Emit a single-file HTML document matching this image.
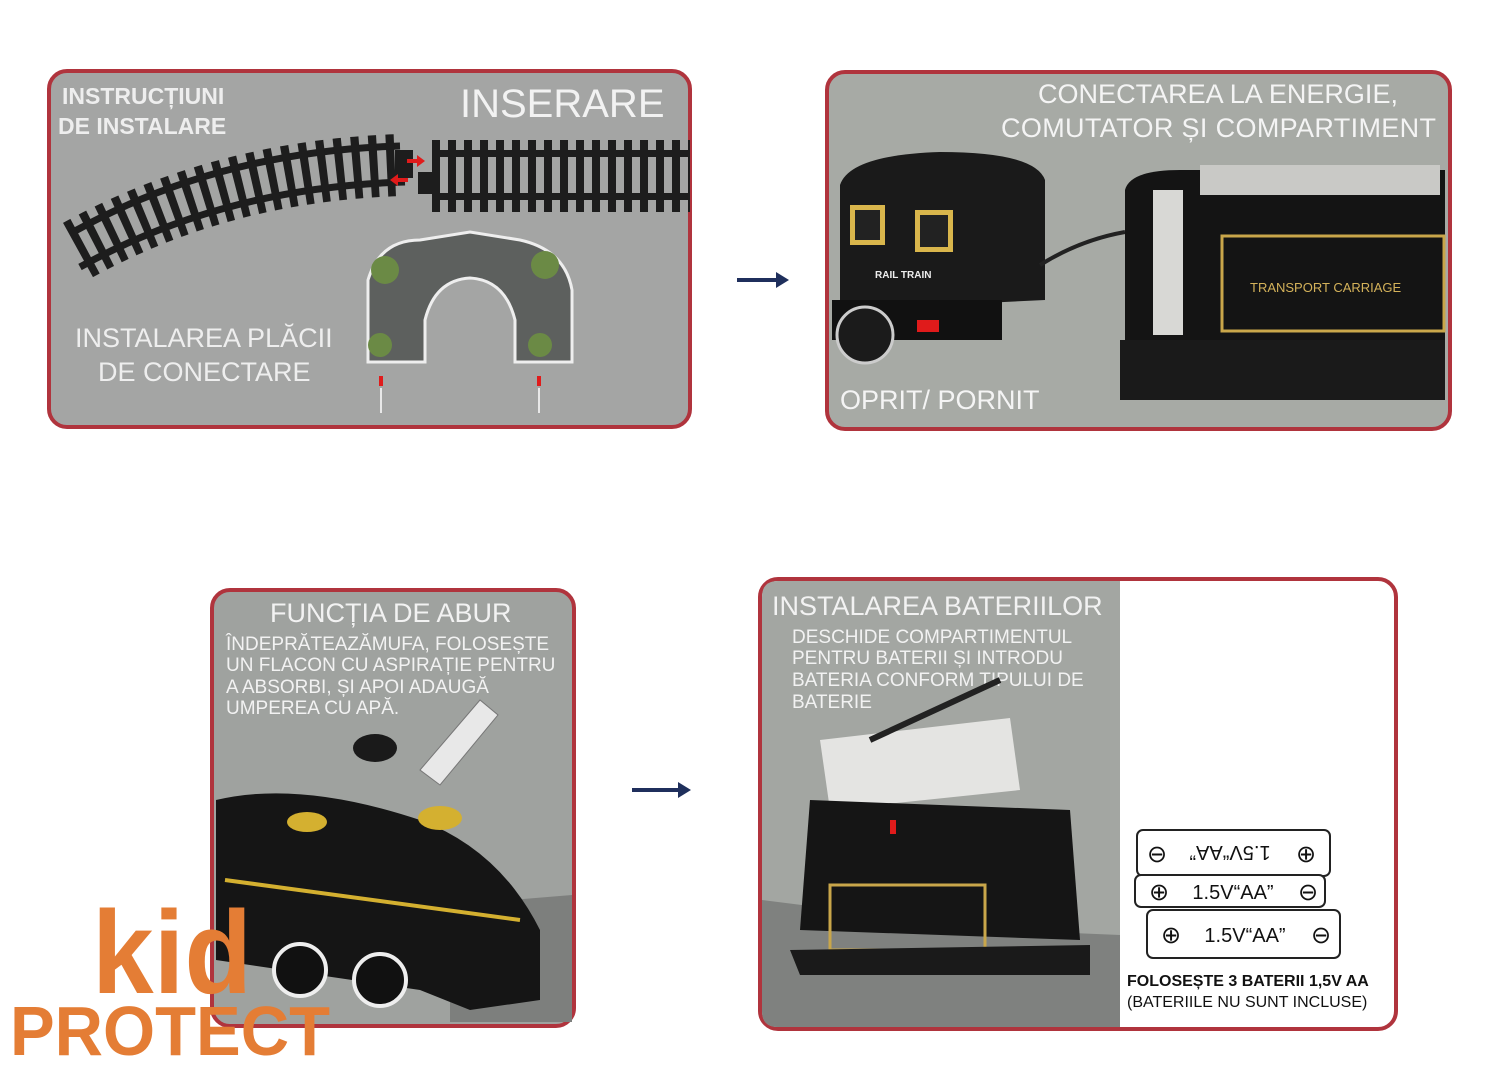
<!DOCTYPE html>
<html><head><meta charset="utf-8"><style>
html,body{margin:0;padding:0;background:#fff;width:1500px;height:1071px;overflow:hidden}
svg text{font-family:"Liberation Sans",sans-serif}
.logo{font-family:"Liberation Sans",sans-serif;font-weight:bold;fill:#e47d35}
</style></head><body>
<svg width="1500" height="1071" viewBox="0 0 1500 1071" xmlns="http://www.w3.org/2000/svg">
<defs>
<pattern id="ties" width="16" height="80" patternUnits="userSpaceOnUse"><rect x="0" y="0" width="8" height="80" fill="#1d1d1d"/></pattern>
</defs>
<!-- Panel 1 -->
<rect x="49" y="71" width="641" height="356" rx="18" fill="#a4a5a4" stroke="#b0343d" stroke-width="4"/>
<text x="62" y="104" font-size="23" style="font-weight:bold" fill="#eee">INSTRUCȚIUNI</text>
<text x="58" y="134" font-size="23" style="font-weight:bold" fill="#eee">DE INSTALARE</text>
<text x="460" y="117" font-size="40" fill="#f2f2f2">INSERARE</text>
<g fill="none" stroke="#1d1d1d">
<path d="M75 245 Q220 165 400 160" stroke-width="7" transform="translate(0,-14)"/>
<path d="M75 245 Q220 165 400 160" stroke-width="7" transform="translate(5,22)"/>
<path d="M75 245 Q220 165 400 160" stroke-width="62" stroke-dasharray="8 9" transform="translate(3,5)"/>
</g>
<rect x="395" y="150" width="18" height="28" fill="#1d1d1d"/>
<rect x="432" y="140" width="258" height="72" fill="url(#ties)"/>
<rect x="432" y="150" width="258" height="7" fill="#1d1d1d"/>
<rect x="432" y="193" width="258" height="7" fill="#1d1d1d"/>
<rect x="418" y="172" width="18" height="22" fill="#1d1d1d"/>
<path d="M407 159 h10 v-4 l8 6 -8 6 v-4 h-10z" fill="#e01b1b"/>
<path d="M408 178 h-10 v-4 l-8 6 8 6 v-4 h10z" fill="#e01b1b"/>
<path d="M368 362 L368 280 Q380 240 420 240 L470 232 L520 240 Q565 250 572 290 L572 362 L515 362 L515 320 Q505 280 470 278 Q435 280 425 320 L425 362Z" fill="#5d605e" stroke="#eee" stroke-width="3"/>
<circle cx="385" cy="270" r="14" fill="#6b8a45"/><circle cx="545" cy="265" r="14" fill="#6b8a45"/>
<circle cx="380" cy="345" r="12" fill="#6b8a45"/><circle cx="540" cy="345" r="12" fill="#6b8a45"/>
<path d="M381 376 v10 M539 376 v10" stroke="#e01b1b" stroke-width="4"/>
<path d="M381 388 v25 M539 388 v25" stroke="#e8e8e8" stroke-width="2"/>
<text x="75" y="347" font-size="27" fill="#eee">INSTALAREA PLĂCII</text>
<text x="98" y="381" font-size="27" fill="#eee">DE CONECTARE</text>
<path d="M737 280 H782" stroke="#1f2f5c" stroke-width="4"/><path d="M776 272 L789 280 776 288Z" fill="#1f2f5c"/>
<!-- Panel 2 -->
<rect x="827" y="72" width="623" height="357" rx="18" fill="#a7aaa5" stroke="#b0343d" stroke-width="4"/>
<text x="1038" y="103" font-size="27" fill="#f4f4f4" textLength="360">CONECTAREA LA ENERGIE,</text>
<text x="1001" y="137" font-size="27" fill="#f4f4f4" textLength="435">COMUTATOR ȘI COMPARTIMENT</text>
<path d="M840 185 Q850 155 940 152 Q1035 152 1045 180 L1045 300 L840 310Z" fill="#1a1a1a"/>
<rect x="832" y="300" width="170" height="40" fill="#111"/>
<circle cx="865" cy="335" r="28" fill="#1b1b1b" stroke="#ccc" stroke-width="3"/>
<rect x="850" y="205" width="35" height="40" fill="#d9b64c"/><rect x="855" y="210" width="25" height="30" fill="#222"/>
<rect x="915" y="210" width="38" height="42" fill="#d9b64c"/><rect x="920" y="215" width="28" height="32" fill="#222"/>
<text x="875" y="278" font-size="10" style="font-weight:bold" fill="#eee">RAIL TRAIN</text>
<rect x="917" y="320" width="22" height="12" fill="#e01b1b"/>
<path d="M1040 265 Q1080 240 1125 232" stroke="#222" stroke-width="4" fill="none"/>
<path d="M1125 190 Q1130 170 1180 170 L1445 170 L1445 360 L1125 340Z" fill="#141414"/>
<rect x="1200" y="165" width="240" height="30" fill="#c9c9c6"/>
<rect x="1153" y="190" width="30" height="145" fill="#d8d8d5"/>
<rect x="1222" y="236" width="222" height="95" fill="none" stroke="#c9a64a" stroke-width="3"/>
<text x="1250" y="292" font-size="13" fill="#d4b25a" font-family="Liberation Serif">TRANSPORT CARRIAGE</text>
<rect x="1120" y="340" width="325" height="60" fill="#1a1a1a"/>
<text x="840" y="409" font-size="27" fill="#f4f4f4">OPRIT/ PORNIT</text>
<!-- Panel 3 -->
<rect x="212" y="590" width="362" height="436" rx="18" fill="#9fa29f" stroke="#b0343d" stroke-width="4"/>
<path d="M450 905 L572 895 L572 1022 L450 1022Z" fill="#7d7f7d"/>
<text x="270" y="622" font-size="27" fill="#f2f2f2">FUNCȚIA DE ABUR</text>
<g font-size="19" fill="#f2f2f2">
<text x="226" y="650">ÎNDEPRĂTEAZĂMUFA, FOLOSEȘTE</text>
<text x="226" y="671">UN FLACON CU ASPIRAȚIE PENTRU</text>
<text x="226" y="693">A ABSORBI, ȘI APOI ADAUGĂ</text>
<text x="226" y="714">UMPEREA CU APĂ.</text>
</g>
<ellipse cx="375" cy="748" rx="22" ry="14" fill="#1a1a1a"/>
<path d="M420 770 L480 700 L498 715 L440 785Z" fill="#e8e8e8" stroke="#777"/>
<path d="M216 800 Q300 780 420 820 Q500 850 540 930 L540 1000 L470 1010 L420 990 L216 960Z" fill="#151515"/>
<ellipse cx="307" cy="822" rx="20" ry="10" fill="#d4b030"/>
<ellipse cx="440" cy="818" rx="22" ry="12" fill="#d4b030"/>
<path d="M225 880 L520 920" stroke="#d4b030" stroke-width="4"/>
<circle cx="300" cy="970" r="26" fill="#111" stroke="#eee" stroke-width="4"/>
<circle cx="380" cy="980" r="26" fill="#111" stroke="#eee" stroke-width="4"/>
<path d="M632 790 H684" stroke="#1f2f5c" stroke-width="4"/><path d="M678 782 L691 790 678 798Z" fill="#1f2f5c"/>
<!-- Panel 4 -->
<rect x="760" y="579" width="636" height="450" rx="18" fill="#fff" stroke="#b0343d" stroke-width="4"/>
<path d="M762 597 Q762 581 778 581 L1120 581 L1120 1027 L778 1027 Q762 1027 762 1011Z" fill="#a3a6a2"/>
<path d="M762 900 L1000 930 L1120 935 L1120 1027 L778 1027 Q762 1027 762 1011Z" fill="#7f817f"/>
<text x="772" y="615" font-size="27" fill="#f2f2f2">INSTALAREA BATERIILOR</text>
<g font-size="19" fill="#f2f2f2">
<text x="792" y="643">DESCHIDE COMPARTIMENTUL</text>
<text x="792" y="664">PENTRU BATERII ȘI INTRODU</text>
<text x="792" y="686">BATERIA CONFORM TIPULUI DE</text>
<text x="792" y="708">BATERIE</text>
</g>
<path d="M820 740 L1010 718 L1020 790 L830 810Z" fill="#e4e4e2"/>
<path d="M870 740 L1000 680" stroke="#222" stroke-width="6"/>
<path d="M810 800 L1070 810 L1080 940 L800 930Z" fill="#151515"/>
<rect x="830" y="885" width="155" height="65" fill="none" stroke="#c9a64a" stroke-width="3"/>
<path d="M790 950 L1090 945 L1090 975 L800 975Z" fill="#1a1a1a"/>
<rect x="890" y="820" width="6" height="14" fill="#e01b1b"/>
<g stroke="#222" stroke-width="2" fill="#fff">
<rect x="1137" y="830" width="193" height="46" rx="6"/>
<rect x="1135" y="875" width="190" height="32" rx="6"/>
<rect x="1147" y="910" width="193" height="48" rx="6"/>
</g>
<g font-size="20" fill="#111">
<text x="1230" y="860" text-anchor="middle" transform="rotate(180 1230 853)">1.5V“AA”</text>
<text x="1233" y="899" text-anchor="middle">1.5V“AA”</text>
<text x="1245" y="942" text-anchor="middle">1.5V“AA”</text>
<text x="1157" y="862" text-anchor="middle" font-size="24">⊖</text><text x="1306" y="862" text-anchor="middle" font-size="24">⊕</text>
<text x="1159" y="900" text-anchor="middle" font-size="24">⊕</text><text x="1308" y="900" text-anchor="middle" font-size="24">⊖</text>
<text x="1171" y="943" text-anchor="middle" font-size="24">⊕</text><text x="1321" y="943" text-anchor="middle" font-size="24">⊖</text>
</g>
<text x="1127" y="986" font-size="16" style="font-weight:bold" fill="#111">FOLOSEȘTE 3 BATERII 1,5V AA</text>
<text x="1127" y="1007" font-size="16" fill="#111">(BATERIILE NU SUNT INCLUSE)</text>
<!-- logo -->
<text class="logo" x="92" y="993" font-size="118" textLength="160" lengthAdjust="spacingAndGlyphs">kid</text>
<text class="logo" x="10" y="1055" font-size="70" textLength="320" lengthAdjust="spacingAndGlyphs">PROTECT</text>
</svg>
</body></html>
